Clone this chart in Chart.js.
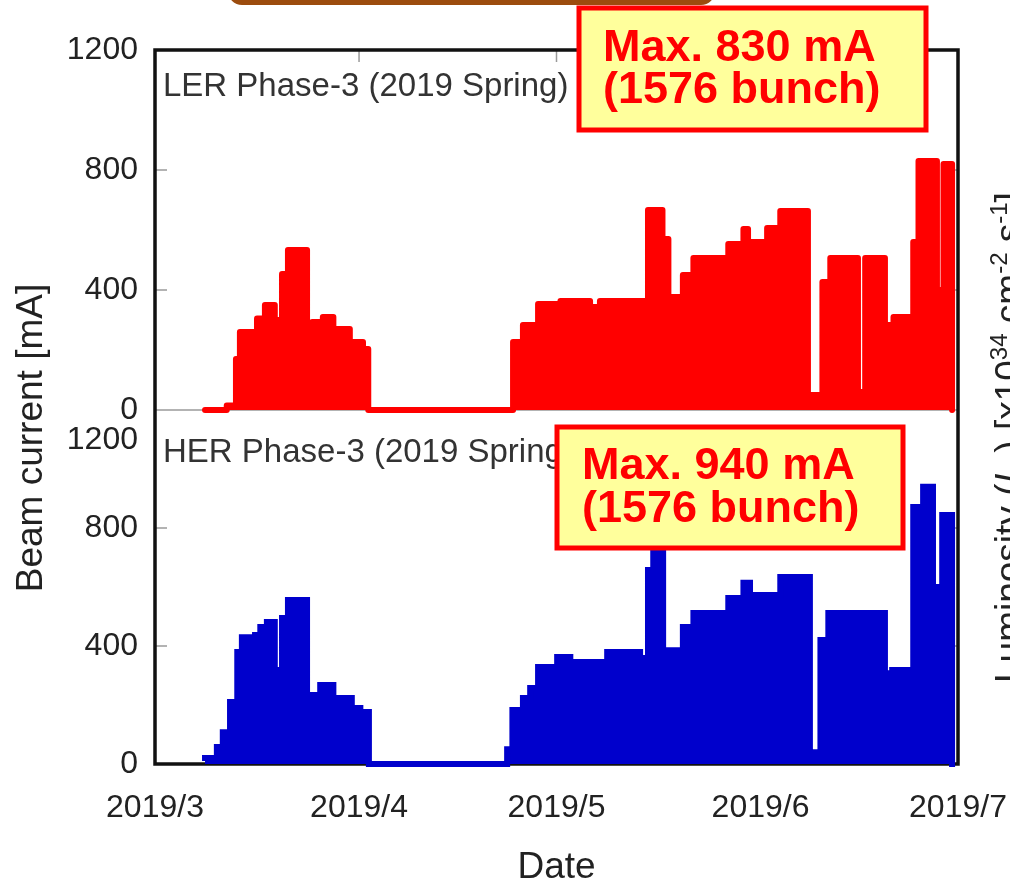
<!DOCTYPE html>
<html>
<head>
<meta charset="utf-8">
<title>Beam current - Phase-3 (2019 Spring)</title>
<script src="https://cdn.jsdelivr.net/npm/chart.js@4.4.0/dist/chart.umd.min.js"></script>
<style>
  html, body { margin: 0; padding: 0; background: #fff; }
  #wrap { position: relative; width: 1010px; height: 886px; overflow: hidden; }
</style>
</head>
<body>
<div id="wrap"><canvas id="beamChart" width="1010" height="886"></canvas></div>
<script>
// x values are days counted from 2019/3/1; each current holds until the next day entry
const monthDays = [0, 31, 61, 92, 122];
const monthLabels = ['2019/3', '2019/4', '2019/5', '2019/6', '2019/7'];
const currentTicks = [0, 400, 800, 1200];

const lerDays = [7.6, 10.9, 12.3, 12.9, 15.5, 16.7, 18.2, 19.3, 20.2, 23.1, 23.9, 25.5, 27.1, 29.6, 31.6, 32.4,
  54.4, 55.9, 58.2, 61.6, 66.1, 67.6, 74.9, 77.1, 78.0, 80.2, 81.8, 86.6, 87.1, 89.4, 90.1, 93.0, 95.0,
  99.2, 101.4, 102.6, 106.8, 107.9, 110.9, 112.2, 115.2, 116.0, 118.8, 119.8, 121.1];
const lerCurrent = [0, 15, 170, 260, 305, 350, 300, 453, 533, 270, 293, 310, 270, 227, 203, 0,
  227, 283, 353, 363, 343, 363, 667, 570, 377, 450, 507, 300, 553, 603, 560, 607, 663,
  50, 427, 507, 60, 507, 283, 310, 560, 830, 400, 820, 0];

const herDays = [7.6, 9.4, 10.3, 11.4, 12.5, 13.2, 15.2, 16.0, 17.0, 18.2, 19.3, 20.2, 23.1, 23.9, 25.1, 27.1,
  29.9, 31.2, 32.5, 53.5, 54.3, 55.9, 57.0, 58.2, 61.1, 63.1, 68.7, 73.7, 74.9, 75.7, 77.2, 80.2, 81.8,
  87.1, 89.4, 90.4, 95.0, 99.5, 101.1, 102.3, 110.9, 112.0, 115.2, 116.7, 118.2, 119.6, 121.1];
const herCurrent = [20, 58, 108, 210, 380, 430, 437, 464, 481, 319, 495, 556, 217, 234, 268, 224,
  190, 176, 0, 50, 183, 224, 258, 329, 363, 346, 380, 359, 658, 745, 386, 464, 512,
  563, 614, 573, 634, 40, 420, 512, 308, 319, 871, 940, 600, 844, 0];

const bunchCount = 1576;

const FONT = '"Liberation Sans", Arial, sans-serif';
Chart.defaults.font.family = FONT;

const toPoints = (xs, ys) => xs.map((x, i) => ({ x: x, y: ys[i] }));

function currentAxis(weight, showTop) {
  return {
    type: 'linear',
    position: 'left',
    stack: 'beam',
    stackWeight: weight,
    min: 0,
    max: 1200,
    border: { display: false },
    grid: { display: false, drawTicks: false },
    afterBuildTicks: (s) => { s.ticks = currentTicks.map((v) => ({ value: v })); },
    ticks: {
      padding: 17,
      color: '#222',
      font: { size: 32 },
      callback: (v) => (showTop || v < 1200 ? v : '')
    },
    afterFit: (s) => { s.width = 155; }
  };
}

// frame, joint line and small inner ticks, under the data
const framePlugin = {
  id: 'frame',
  beforeDatasetsDraw(chart) {
    const { ctx, chartArea: a, scales } = chart;
    ctx.save();
    const yJoint = scales.yLER.getPixelForValue(0);
    ctx.strokeStyle = '#9a9a9a';
    ctx.lineWidth = 1.5;
    ctx.beginPath();
    ctx.moveTo(a.left, yJoint);
    ctx.lineTo(a.right, yJoint);
    ['yLER', 'yHER'].forEach((id) => {
      [400, 800].forEach((v) => {
        const y = scales[id].getPixelForValue(v);
        ctx.moveTo(a.left, y); ctx.lineTo(a.left + 12, y);
        ctx.moveTo(a.right - 12, y); ctx.lineTo(a.right, y);
      });
    });
    monthDays.slice(1, -1).forEach((d) => {
      const x = scales.x.getPixelForValue(d);
      ctx.moveTo(x, a.top); ctx.lineTo(x, a.top + 12);
    });
    ctx.stroke();

    ctx.strokeStyle = '#111';
    ctx.lineWidth = 3.5;
    ctx.strokeRect(a.left, a.top, a.right - a.left, a.bottom - a.top);
    ctx.restore();
  }
};

function drawNote(ctx, x, y, w, h, lines, tx, baselines) {
  ctx.fillStyle = '#ffff9c';
  ctx.fillRect(x, y, w, h);
  ctx.strokeStyle = '#ff0000';
  ctx.lineWidth = 5;
  ctx.strokeRect(x, y, w, h);
  ctx.fillStyle = '#ff0000';
  ctx.font = 'bold 45px ' + FONT;
  ctx.textAlign = 'left';
  ctx.textBaseline = 'alphabetic';
  lines.forEach((t, i) => ctx.fillText(t, tx, baselines[i]));
}

const notesPlugin = {
  id: 'notes',
  afterDraw(chart) {
    const { ctx } = chart;
    ctx.save();

    // brown tab cut by the top edge
    ctx.fillStyle = '#9c4c0e';
    ctx.beginPath();
    ctx.roundRect(228, -30, 487, 35, 14);
    ctx.fill();

    // panel titles
    ctx.fillStyle = '#333';
    ctx.font = '33px ' + FONT;
    ctx.textAlign = 'left';
    ctx.textBaseline = 'alphabetic';
    ctx.fillText('LER Phase-3 (2019 Spring)', 163, 96);
    ctx.fillText('HER Phase-3 (2019 Spring)', 163, 462);

    // top label of the lower panel sits just under the joint
    ctx.fillStyle = '#222';
    ctx.font = '32px ' + FONT;
    ctx.textAlign = 'right';
    ctx.textBaseline = 'middle';
    ctx.fillText('1200', 138, 440);

    // shared y title
    ctx.save();
    ctx.translate(32, 438);
    ctx.rotate(-Math.PI / 2);
    ctx.textAlign = 'center';
    ctx.font = '37px ' + FONT;
    ctx.fillText('Beam current [mA]', 0, 0);
    ctx.restore();

    // peak notes
    drawNote(ctx, 579, 8, 347, 122,
      ['Max. ' + Math.max(...lerCurrent) + ' mA', '(' + bunchCount + ' bunch)'], 603, [61, 103]);
    drawNote(ctx, 557, 427, 346, 121,
      ['Max. ' + Math.max(...herCurrent) + ' mA', '(' + bunchCount + ' bunch)'], 582, [479, 522]);

    // luminosity axis title of the next plot, cut by the right edge
    const runs = [
      { t: 'Luminosity (' }, { t: 'L', it: true }, { t: ' ) [x10' }, { t: '34', sup: true },
      { t: ' cm' }, { t: '-2', sup: true }, { t: ' s' }, { t: '-1', sup: true }, { t: ']' }
    ];
    ctx.save();
    ctx.translate(1021, 683);
    ctx.rotate(-Math.PI / 2);
    ctx.fillStyle = '#222';
    ctx.textAlign = 'left';
    ctx.textBaseline = 'alphabetic';
    let px = 0;
    runs.forEach((r) => {
      ctx.font = (r.it ? 'italic ' : '') + (r.sup ? '24px ' : '37px ') + FONT;
      ctx.fillText(r.t, px, r.sup ? -14 : 0);
      px += ctx.measureText(r.t).width;
    });
    ctx.restore();

    ctx.restore();
  }
};

new Chart(document.getElementById('beamChart'), {
  type: 'line',
  data: {
    datasets: [
      {
        label: 'LER',
        data: toPoints(lerDays, lerCurrent),
        yAxisID: 'yLER',
        stepped: true,
        fill: 'origin',
        borderColor: '#ff0000',
        backgroundColor: '#ff0000',
        borderWidth: 6,
        borderJoinStyle: 'round',
        borderCapStyle: 'round',
        pointRadius: 0,
        clip: 6
      },
      {
        label: 'HER',
        data: toPoints(herDays, herCurrent),
        yAxisID: 'yHER',
        stepped: true,
        fill: 'origin',
        borderColor: '#0000cc',
        backgroundColor: '#0000cc',
        borderWidth: 6,
        borderJoinStyle: 'miter',
        borderCapStyle: 'square',
        pointRadius: 0,
        clip: 6
      }
    ]
  },
  options: {
    responsive: false,
    animation: false,
    layout: { padding: { top: 50, right: 52, left: 0, bottom: 0 } },
    plugins: { legend: { display: false }, tooltip: { enabled: false } },
    scales: {
      x: {
        type: 'linear',
        min: 0,
        max: 122,
        border: { display: false },
        grid: { display: false, drawTicks: false },
        afterBuildTicks: (s) => { s.ticks = monthDays.map((v) => ({ value: v })); },
        ticks: {
          padding: 25,
          color: '#222',
          font: { size: 32 },
          maxRotation: 0,
          autoSkip: false,
          callback: (v, i) => monthLabels[i]
        },
        title: {
          display: true,
          text: 'Date',
          color: '#222',
          font: { size: 37, lineHeight: 1 },
          padding: { top: 0, bottom: 0 }
        },
        afterFit: (s) => {
          s.height = 122;
          s.paddingLeft = 0;
          s.paddingRight = 0;
        }
      },
      yHER: currentAxis(354, false),
      yLER: currentAxis(360, true)
    }
  },
  plugins: [framePlugin, notesPlugin]
});
</script>
</body>
</html>
